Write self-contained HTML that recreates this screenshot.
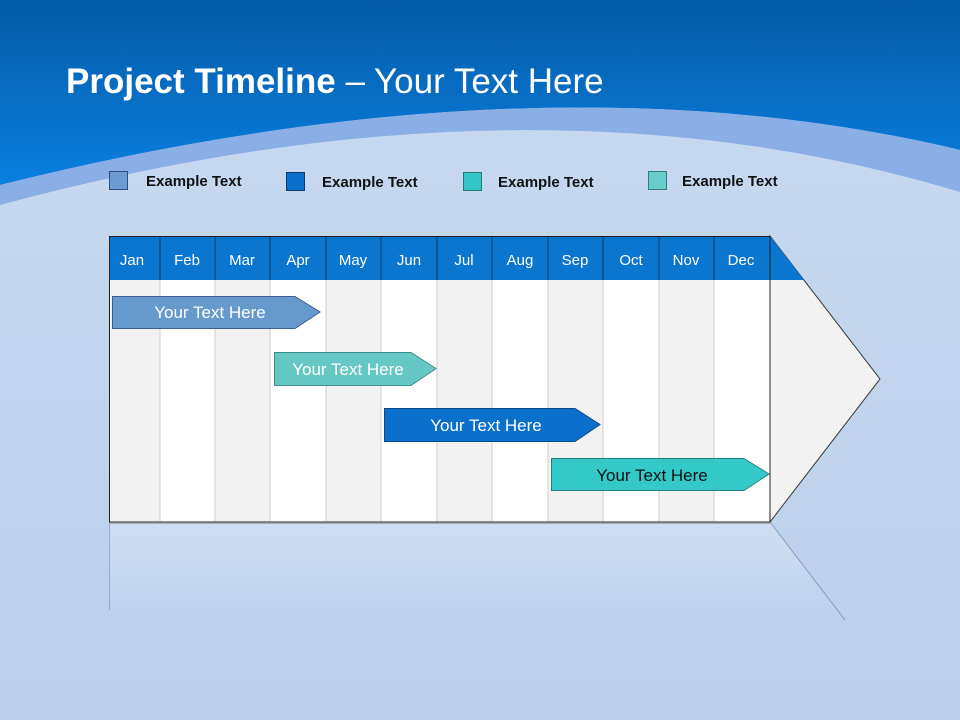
<!DOCTYPE html>
<html><head><meta charset="utf-8"><style>
body{margin:0;width:960px;height:720px;overflow:hidden;font-family:"Liberation Sans",sans-serif}
</style></head><body>
<svg width="960" height="720" viewBox="0 0 960 720" xmlns="http://www.w3.org/2000/svg" style="display:block">
<defs>
<linearGradient id="top" x1="0" y1="0" x2="0" y2="1">
<stop offset="0" stop-color="#045aa6"/><stop offset="1" stop-color="#0a80e0"/>
</linearGradient>
<linearGradient id="bg" x1="0" y1="0" x2="0" y2="1">
<stop offset="0" stop-color="#c8daf0"/><stop offset="1" stop-color="#bcd0ec"/>
</linearGradient>
<linearGradient id="refl" x1="0" y1="0" x2="0" y2="1">
<stop offset="0" stop-color="#ffffff" stop-opacity="0.25"/><stop offset="1" stop-color="#ffffff" stop-opacity="0"/>
</linearGradient>
</defs>
<rect width="960" height="720" fill="url(#bg)"/>
<path d="M0 0H960V150Q540 50 0 185Z" fill="url(#top)"/>
<path d="M0 185Q540 50 960 150V192Q530 62 0 205Z" fill="#8aaee6"/>
<text x="66" y="93" fill="#fff" font-size="35" font-family="Liberation Sans,sans-serif"><tspan font-weight="bold">Project Timeline</tspan> – Your Text Here</text>
<g font-size="15" font-weight="bold" fill="#111">
<rect x="109.5" y="171.5" width="18" height="18" fill="#6b9bd0" stroke="#2a4f80"/>
<text x="146" y="186">Example Text</text>
<rect x="286.5" y="172.5" width="18" height="18" fill="#0b6fcc" stroke="#0a3c70"/>
<text x="322" y="187">Example Text</text>
<rect x="463.5" y="172.5" width="18" height="18" fill="#33c6c9" stroke="#1f7a7a"/>
<text x="498" y="187">Example Text</text>
<rect x="648.5" y="171.5" width="18" height="18" fill="#66cccc" stroke="#2f7f80"/>
<text x="682" y="186">Example Text</text>
</g>
<path d="M109 522H770L845 620H109Z" fill="url(#refl)"/>
<line x1="770" y1="522" x2="845" y2="620" stroke="#6a80a0" stroke-width="1" opacity="0.7"/>
<line x1="109.5" y1="522" x2="109.5" y2="610" stroke="#6a80a0" opacity="0.5"/>
<path d="M770 236L880 379L770 522Z" fill="#f2f2f2" stroke="#333" stroke-width="1"/>
<path d="M770 236L804 280H770Z" fill="#0b76cf"/>
<g>
<rect x="109" y="280" width="51" height="242" fill="#f2f2f2"/>
<rect x="160" y="280" width="55" height="242" fill="#fff"/>
<rect x="215" y="280" width="55" height="242" fill="#f2f2f2"/>
<rect x="270" y="280" width="56" height="242" fill="#fff"/>
<rect x="326" y="280" width="55" height="242" fill="#f2f2f2"/>
<rect x="381" y="280" width="56" height="242" fill="#fff"/>
<rect x="437" y="280" width="55" height="242" fill="#f2f2f2"/>
<rect x="492" y="280" width="56" height="242" fill="#fff"/>
<rect x="548" y="280" width="55" height="242" fill="#f2f2f2"/>
<rect x="603" y="280" width="56" height="242" fill="#fff"/>
<rect x="659" y="280" width="55" height="242" fill="#f2f2f2"/>
<rect x="714" y="280" width="56" height="242" fill="#fff"/>
</g>
<g stroke="#cfcfcf" stroke-width="1">
<line x1="160" y1="280" x2="160" y2="522"/><line x1="215" y1="280" x2="215" y2="522"/>
<line x1="270" y1="280" x2="270" y2="522"/><line x1="326" y1="280" x2="326" y2="522"/>
<line x1="381" y1="280" x2="381" y2="522"/><line x1="437" y1="280" x2="437" y2="522"/>
<line x1="492" y1="280" x2="492" y2="522"/><line x1="548" y1="280" x2="548" y2="522"/>
<line x1="603" y1="280" x2="603" y2="522"/><line x1="659" y1="280" x2="659" y2="522"/>
<line x1="714" y1="280" x2="714" y2="522"/><line x1="770" y1="280" x2="770" y2="522"/>
</g>
<rect x="109" y="236" width="661" height="44" fill="#0b76cf"/>
<g stroke="#0a3560" stroke-width="1">
<line x1="160" y1="236" x2="160" y2="280"/><line x1="215" y1="236" x2="215" y2="280"/>
<line x1="270" y1="236" x2="270" y2="280"/><line x1="326" y1="236" x2="326" y2="280"/>
<line x1="381" y1="236" x2="381" y2="280"/><line x1="437" y1="236" x2="437" y2="280"/>
<line x1="492" y1="236" x2="492" y2="280"/><line x1="548" y1="236" x2="548" y2="280"/>
<line x1="603" y1="236" x2="603" y2="280"/><line x1="659" y1="236" x2="659" y2="280"/>
<line x1="714" y1="236" x2="714" y2="280"/><line x1="770" y1="236" x2="770" y2="280"/>
</g>
<rect x="109.5" y="236.5" width="660.5" height="285.5" fill="none" stroke="#222" stroke-width="1"/>
<line x1="109" y1="523" x2="770" y2="523" stroke="#999" stroke-width="1.5"/>
<g fill="#fff" font-size="15" text-anchor="middle">
<text x="132" y="265">Jan</text><text x="187" y="265">Feb</text><text x="242" y="265">Mar</text>
<text x="298" y="265">Apr</text><text x="353" y="265">May</text><text x="409" y="265">Jun</text>
<text x="464" y="265">Jul</text><text x="520" y="265">Aug</text><text x="575" y="265">Sep</text>
<text x="631" y="265">Oct</text><text x="686" y="265">Nov</text><text x="741" y="265">Dec</text>
</g>
<g font-size="17">
<path d="M112.5 296.5H295L320 312L295 328.5H112.5Z" fill="#6699cc" stroke="#3a5f90"/>
<text x="210" y="318" fill="#fff" text-anchor="middle">Your  Text Here</text>
<path d="M274.5 352.5H411L436 368.5L411 385.5H274.5Z" fill="#66c8c4" stroke="#3a8f8c"/>
<text x="348" y="375" fill="#fff" text-anchor="middle">Your  Text Here</text>
<path d="M384.5 408.5H575L600 424.5L575 441.5H384.5Z" fill="#0b6fcc" stroke="#0a4a8a"/>
<text x="486" y="431" fill="#fff" text-anchor="middle">Your  Text Here</text>
<path d="M551.5 458.5H744L769 474L744 490.5H551.5Z" fill="#33c9c9" stroke="#208080"/>
<text x="652" y="481" fill="#111" text-anchor="middle">Your  Text Here</text>
</g>
</svg>
</body></html>
